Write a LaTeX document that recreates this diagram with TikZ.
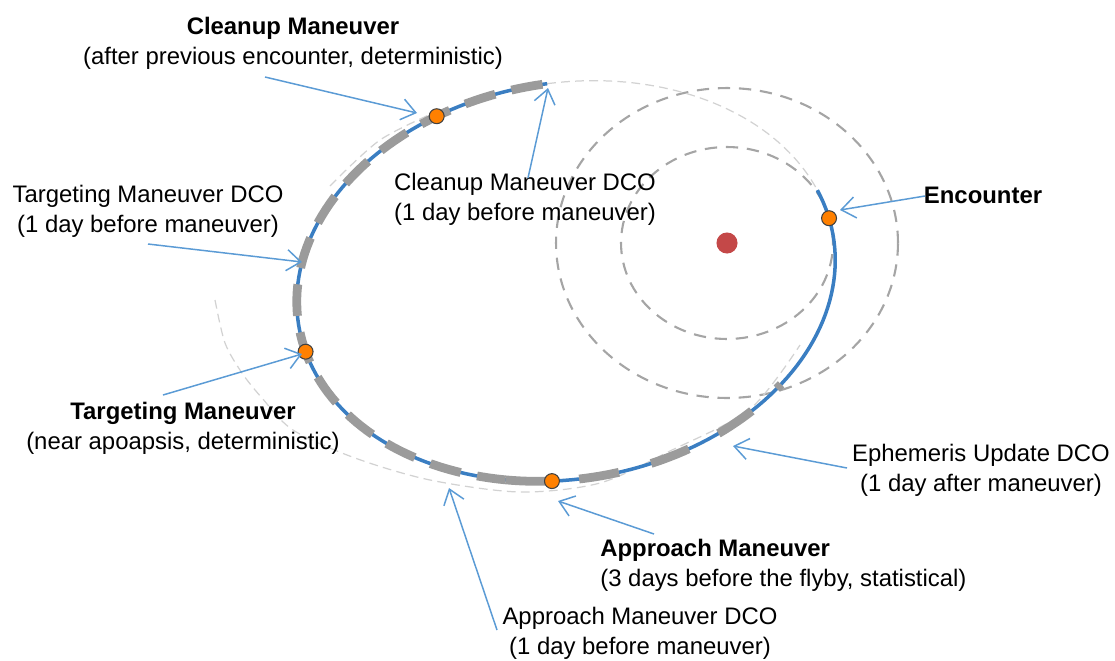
\documentclass[tikz,border=0pt]{standalone}
\usepackage{fontspec}
\setmainfont{Liberation Sans}
\usetikzlibrary{arrows.meta,calc}
\definecolor{orbitblue}{RGB}{58,126,194}
\definecolor{calloutblue}{RGB}{91,155,213}
\definecolor{burngray}{RGB}{155,155,155}
\definecolor{ringgray}{RGB}{165,165,165}
\definecolor{oldgray}{RGB}{210,210,210}
\definecolor{mvorange}{RGB}{255,128,0}
\definecolor{planetred}{RGB}{196,72,72}

% transfer orbit, pixel frame (y down)
\newcommand{\orbx}[1]{566+271*cos(#1)*cos(-9.55)-198*sin(#1)*sin(-9.55)}
\newcommand{\orby}[1]{281+271*cos(#1)*sin(-9.55)+198*sin(#1)*cos(-9.55)}

\begin{document}
\begin{tikzpicture}[x=0.02cm, y=-0.02cm,
  every node/.style={font=\fontsize{13.6}{17}\selectfont, inner sep=0pt, align=center},
  callout/.style={draw=calloutblue, line width=0.85pt, -{Straight Barb[length=8pt,width=12pt]}},
  ring/.style={draw=ringgray, line width=1.2pt, dash pattern=on 7pt off 5pt},
  oldorbit/.style={draw=oldgray, line width=0.7pt, dash pattern=on 5pt off 3pt},
  orbit/.style={draw=orbitblue, line width=2pt},
  burn/.style={draw=burngray, line width=5pt},
  mvdot/.style={circle, fill=mvorange, draw=black!75, line width=0.6pt, minimum size=8.5pt}
]
\useasboundingbox (0,0) rectangle (1115,660);

% sphere of influence rings
\draw[ring] (727,243) ellipse [x radius=2.12cm, y radius=1.92cm];
\draw[ring] (727,243) ellipse [x radius=3.42cm, y radius=3.1cm];
\node[circle, fill=planetred, minimum size=12pt] (planet) at (727,243) {};

% previous orbit
\draw[oldorbit] plot[smooth] coordinates {(215,300) (225,343) (242,373) (262,398) (293,430) (355,458) (430,480) (520,492) (600,483) (670,451) (750,409) (800,345)};
\draw[oldorbit] plot[smooth] coordinates {(330,186) (380,140) (440,110)};
\draw[oldorbit] plot[domain=273:346, samples=40, variable=\t] ({\orbx{\t}},{\orby{\t}});

% orbit and tracking arcs
\draw[orbit] plot[domain=-14:273, samples=150, variable=\t] ({\orbx{\t}},{\orby{\t}});
\draw[burn, dash pattern=on 18pt off 9.5pt] plot[domain=272:110, samples=90, variable=\t] ({\orbx{\t}},{\orby{\t}});
\draw[burn, dash pattern=on 23pt off 19pt] plot[domain=110:44, samples=40, variable=\t] ({\orbx{\t}},{\orby{\t}});

\node[mvdot] (cleanup) at ({\orbx{-111.7}},{\orby{-111.7}}) {};
\node[mvdot] (targeting) at ({\orbx{172.3}},{\orby{172.3}}) {};
\node[mvdot] (approach) at ({\orbx{100}},{\orby{100}}) {};
\node[mvdot] (encounter) at ({\orbx{-5.3}},{\orby{-5.3}}) {};

% labels
\node (cleanupLbl) at (293,43) {\textbf{Cleanup Maneuver}\\(after previous encounter, deterministic)};
\node (cleanupDcoLbl) at (525,199) {Cleanup Maneuver DCO\\(1 day before maneuver)};
\node (targetDcoLbl) at (148,211) {Targeting Maneuver DCO\\(1 day before maneuver)};
\node (encLbl) at (983,195) {\textbf{Encounter}};
\node (targetLbl) at (183,428) {\textbf{Targeting Maneuver}\\(near apoapsis, deterministic)};
\node[anchor=west, align=left] (approachLbl) at (600,565) {\textbf{Approach Maneuver}\\(3 days before the flyby, statistical)};
\node (approachDcoLbl) at (640,633) {Approach Maneuver DCO\\(1 day before maneuver)};
\node (ephemLbl) at (981,470) {Ephemeris Update DCO\\(1 day after maneuver)};

% callout ends
\coordinate (c1s) at (265,77);  \coordinate (c1e) at (417,113);
\coordinate (c2s) at (528,178); \coordinate (c2e) at (548,88);
\coordinate (c3s) at (148,244); \coordinate (c3e) at (302,262);
\coordinate (c4s) at (925,196); \coordinate (c4e) at (840,210);
\coordinate (c5s) at (163,395); \coordinate (c5e) at (302,354);
\coordinate (c6s) at (654,534); \coordinate (c6e) at (558,501);
\coordinate (c7s) at (497,630); \coordinate (c7e) at (449,488);
\coordinate (c8s) at (847,468); \coordinate (c8e) at (733,446);

\foreach \i in {1,...,8}
  \draw[callout] (c\i s) -- (c\i e);
\end{tikzpicture}
\end{document}
